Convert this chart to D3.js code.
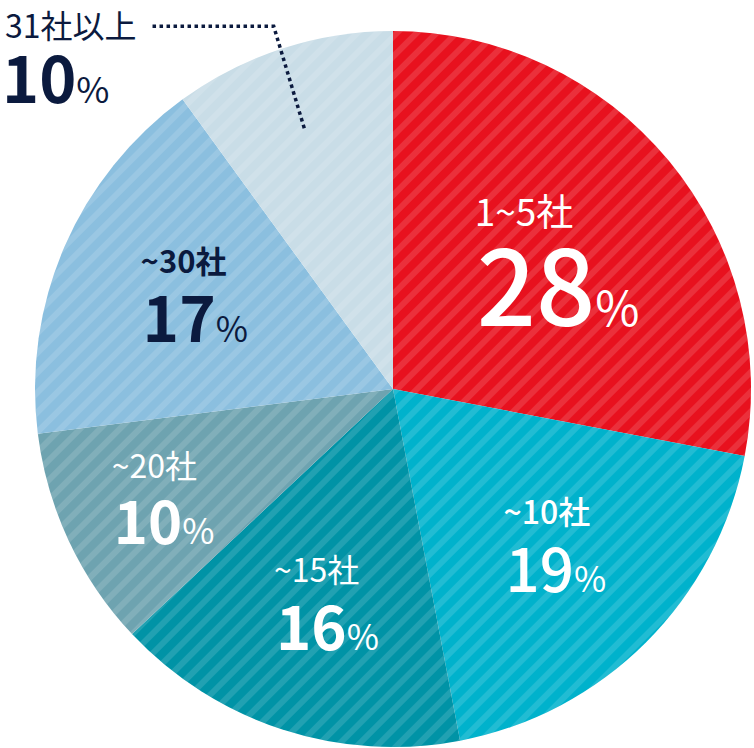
<!DOCTYPE html>
<html lang="ja">
<head>
    <meta charset="UTF-8">
    <title>取引社数の割合</title>
    <script src="https://d3js.org/d3.v7.min.js"></script>
    <style>
        body {
            margin: 0;
            padding: 0;
            background: #ffffff;
        }
        svg text {
            font-family: "Noto Sans CJK JP", "Noto Sans", sans-serif;
        }
    </style>
</head>
<body>
    <div id="chart"></div>
    <script>
        // data
        const categories = ["1~5社", "~10社", "~15社", "~20社", "~30社", "31社以上"];
        const shares = [28, 19, 16, 10, 17, 10];
        const palette = ["#e8111e", "#00b2cc", "#0093a6", "#6ea3b0", "#8bbfdf", "#c9dde7"];

        const width = 754, height = 748;
        const cx = 393, cy = 389, radius = 358;
        const navy = "#0b1a3e";

        // label styling per slice (sizes in px, nudges from the centroid)
        const labelStyle = [
            {sub: 37, num: 104, pct: 48, subW: 400, numW: 500, color: "#fff", nudge: [-8, 15]},
            {sub: 32, num: 60, pct: 35, subW: 500, numW: 500, color: "#fff", nudge: [4, 0]},
            {sub: 32, num: 60, pct: 35, subW: 400, numW: 700, color: "#fff", nudge: [1, 4]},
            {sub: 32, num: 58, pct: 35, subW: 400, numW: 700, color: "#fff", nudge: [-30, 16]},
            {sub: 31, num: 62, pct: 35, subW: 700, numW: 700, color: navy, nudge: [4, -5]},
            {sub: 32, num: 63, pct: 36, subW: 400, numW: 700, color: navy, nudge: [0, 0]}
        ];

        const svg = d3.select("#chart")
            .append("svg")
            .attr("width", width)
            .attr("height", height);

        // light diagonal stripes laid over every slice
        const defs = svg.append("defs");
        const pattern = defs.append("pattern")
            .attr("id", "stripes")
            .attr("patternUnits", "userSpaceOnUse")
            .attr("width", 14)
            .attr("height", 14)
            .attr("patternTransform", "rotate(45)");
        pattern.append("rect")
            .attr("x", 0).attr("y", 0)
            .attr("width", 6).attr("height", 14)
            .attr("fill", "#ffffff")
            .attr("fill-opacity", 0.13);

        const pie = d3.pie().sort(null).value(d => d);
        const arcs = pie(shares);
        const arc = d3.arc().innerRadius(0).outerRadius(radius);
        const labelArc = d3.arc().innerRadius(radius * 0.62).outerRadius(radius * 0.62);

        const g = svg.append("g").attr("transform", `translate(${cx},${cy})`);

        g.selectAll("path.slice")
            .data(arcs)
            .enter()
            .append("path")
            .attr("class", "slice")
            .attr("d", arc)
            .attr("fill", (d, i) => palette[i]);

        g.selectAll("path.stripe")
            .data(arcs)
            .enter()
            .append("path")
            .attr("class", "stripe")
            .attr("d", arc)
            .attr("fill", "url(#stripes)");

        // labels inside the slices
        const gap = 24;
        arcs.forEach((d, i) => {
            if (i === 5) return;
            const s = labelStyle[i];
            const c = labelArc.centroid(d);
            const bx = c[0] + s.nudge[0], by = c[1] + s.nudge[1];
            const subCap = s.sub * 0.73, numCap = s.num * 0.73;
            const blockH = subCap + gap + numCap;

            const num = g.append("text")
                .attr("y", by + blockH / 2)
                .attr("fill", s.color);
            num.append("tspan")
                .style("font-size", s.num + "px")
                .style("font-weight", s.numW)
                .text(shares[i]);
            num.append("tspan")
                .style("font-size", s.pct + "px")
                .style("font-weight", 400)
                .text("%");
            const w = num.node().getComputedTextLength();
            const left = bx - w / 2;
            num.attr("x", left + 2);

            g.append("text")
                .attr("x", left)
                .attr("y", by - blockH / 2 + subCap)
                .attr("fill", s.color)
                .style("font-size", s.sub + "px")
                .style("font-weight", s.subW)
                .text(categories[i]);
        });

        // outside label for the last slice with a dotted leader
        const s6 = labelStyle[5];
        const outer = svg.append("g").attr("transform", "translate(5,38)");
        const subText = outer.append("text")
            .attr("x", 0).attr("y", 0)
            .attr("fill", s6.color)
            .style("font-size", s6.sub + "px")
            .style("font-weight", s6.subW)
            .text(categories[5]);
        const num6 = outer.append("text")
            .attr("x", -3).attr("y", 65)
            .attr("fill", s6.color);
        num6.append("tspan")
            .style("font-size", s6.num + "px")
            .style("font-weight", s6.numW)
            .text(shares[5]);
        num6.append("tspan")
            .style("font-size", s6.pct + "px")
            .style("font-weight", 400)
            .text("%");

        const subW = subText.node().getComputedTextLength();
        const leaderArc = d3.arc().innerRadius(radius * 0.765).outerRadius(radius * 0.765);
        const tip = leaderArc.centroid(arcs[5]);
        const tipX = cx + tip[0] - 4, tipY = cy + tip[1];
        const lineY = 38 - s6.sub * 0.73 / 2;
        const bendX = tipX - (tipY - lineY) * 0.3;
        svg.append("path")
            .attr("d", d3.line()([[5 + subW + 16, lineY], [bendX, lineY], [tipX, tipY]]))
            .attr("fill", "none")
            .attr("stroke", navy)
            .attr("stroke-width", 3.5)
            .attr("stroke-dasharray", "3.5 3.5");
    </script>
</body>
</html>
